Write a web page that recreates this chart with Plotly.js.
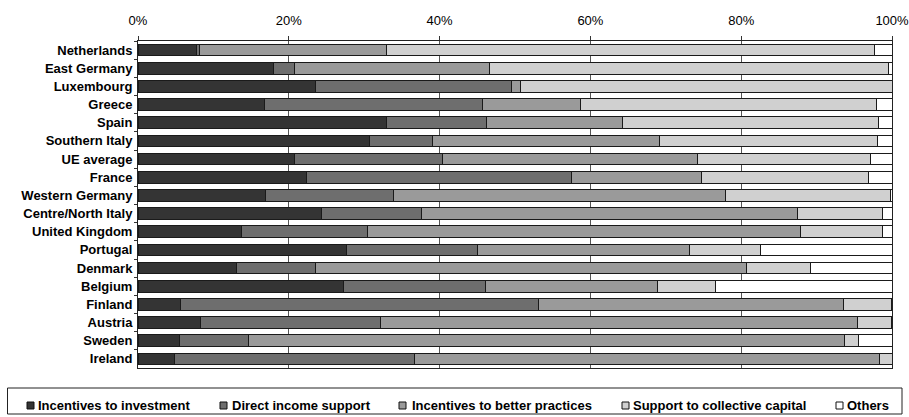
<!DOCTYPE html>
<html>
<head>
<meta charset="utf-8">
<script src="https://cdn.plot.ly/plotly-3.0.1.min.js"></script>
<style>
html,body{margin:0;padding:0;background:#fff;}
#chart{width:909px;height:417px;}
</style>
</head>
<body>
<div id="chart"></div>
<script>
const categories = ["Netherlands","East Germany","Luxembourg","Greece","Spain","Southern Italy","UE average","France","Western Germany","Centre/North Italy","United Kingdom","Portugal","Denmark","Belgium","Finland","Austria","Sweden","Ireland"];
const seriesNames = ["Incentives to investment","Direct income support","Incentives to better practices","Support to collective capital","Others"];
const investment = [7.7,18.0,23.5,16.8,32.9,30.7,20.8,22.4,16.9,24.4,13.7,27.6,13.1,27.2,5.7,8.3,5.5,4.9];
const incomeSupport = [0.5,2.8,26.0,28.9,13.3,8.3,19.6,35.1,17.0,13.2,16.8,17.4,10.4,18.9,47.4,23.8,9.1,31.8];
const betterPractices = [24.7,25.8,1.2,13.0,18.1,30.2,33.8,17.3,44.0,49.9,57.3,28.1,57.2,22.8,40.5,63.3,79.1,61.6];
const collectiveCapital = [64.8,52.9,49.3,39.3,33.9,28.9,23.0,22.1,21.9,11.3,11.0,9.4,8.5,7.7,6.3,4.5,1.8,1.7];
const others = [2.3,0.5,0.0,2.0,1.8,1.9,2.8,3.1,0.2,1.2,1.2,17.5,10.8,23.4,0.1,0.1,4.5,0.0];
const xTickVals = [0,20,40,60,80,100];
const xTickText = ["0%","20%","40%","60%","80%","100%"];

const allSeries = [investment, incomeSupport, betterPractices, collectiveCapital, others];
const colors = ["#343434","#6e6e6e","#9a9a9a","#d0d0d0","#ffffff"];

const traces = allSeries.map((vals, i) => ({
  type: "bar",
  orientation: "h",
  name: seriesNames[i],
  y: categories,
  x: vals,
  marker: {color: colors[i], line: {color: "#1a1a1a", width: 1}},
  hoverinfo: "skip"
}));

const W = 909, H = 417;
const mL = 138, mR = 17, mT = 41, mB = 49;
const pw = W - mL - mR, ph = H - mT - mB;
function px(x){ return (x - mL) / pw; }
function py(y){ return (H - mB - y) / ph; }

// legend (drawn as keys + labels)
const legendKeyX = [27, 220, 399, 622, 836];
const legendTextX = [38, 232, 412, 633, 847];
const legendFont = {size: 13, family: "Liberation Sans, Arial, sans-serif", weight: "bold", color: "#000"};

const shapes = [{
  type: "rect", xref: "paper", yref: "paper",
  x0: px(7.5), x1: px(902), y0: py(414), y1: py(388),
  line: {color: "#222", width: 1}, fillcolor: "rgba(0,0,0,0)"
}];
const annotations = [];
seriesNames.forEach((nm, i) => {
  shapes.push({
    type: "rect", xref: "paper", yref: "paper",
    x0: px(legendKeyX[i]), x1: px(legendKeyX[i] + 7), y0: py(409), y1: py(402),
    line: {color: "#111", width: 1}, fillcolor: colors[i]
  });
  annotations.push({
    xref: "paper", yref: "paper",
    x: px(legendTextX[i]), y: py(405.5),
    xanchor: "left", yanchor: "middle",
    text: nm, showarrow: false, font: legendFont,
    borderpad: 0, xshift: -1
  });
});

const layout = {
  width: W, height: H,
  margin: {l: mL, r: mR, t: mT, b: mB, pad: 0},
  paper_bgcolor: "#fff",
  plot_bgcolor: "#fff",
  barmode: "stack",
  bargap: 0.35,
  font: {family: "Liberation Sans, Arial, sans-serif", color: "#000", size: 12},
  xaxis: {
    side: "top",
    range: [0, 100],
    tickvals: xTickVals,
    ticktext: xTickText,
    ticks: "outside",
    ticklen: 4,
    tickcolor: "#333",
    ticklabelstandoff: 6,
    ticklabeloverflow: "allow",
    showgrid: true,
    gridcolor: "#555",
    gridwidth: 1,
    showline: true,
    linecolor: "#222",
    linewidth: 1,
    mirror: true,
    zeroline: false,
    tickfont: {size: 13, family: "Liberation Sans, Arial, sans-serif"},
    fixedrange: true
  },
  yaxis: {
    type: "category",
    autorange: "reversed",
    tickson: "boundaries",
    ticks: "outside",
    ticklen: 3,
    tickcolor: "#333",
    ticklabelstandoff: 2,
    showline: true,
    linecolor: "#222",
    linewidth: 1,
    mirror: true,
    showgrid: false,
    tickfont: {size: 13, family: "Liberation Sans, Arial, sans-serif", weight: "bold"},
    fixedrange: true
  },
  showlegend: false,
  shapes: shapes,
  annotations: annotations
};

Plotly.newPlot("chart", traces, layout, {displayModeBar: false, staticPlot: true});
</script>
</body>
</html>
